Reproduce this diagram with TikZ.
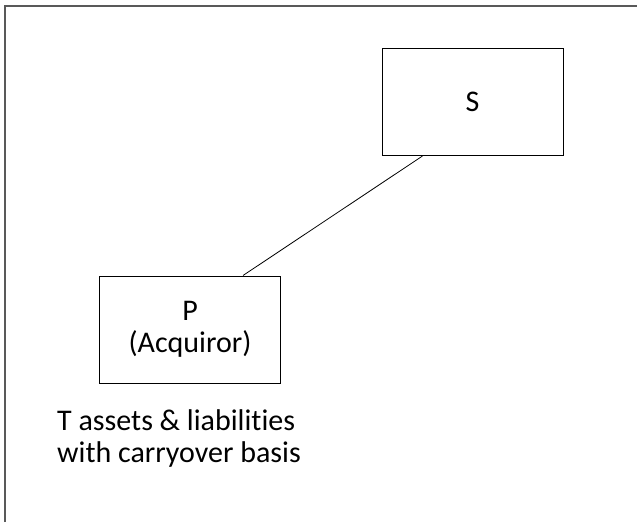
\documentclass[tikz,border=0pt]{standalone}
\usepackage{fontspec}
\setmainfont{Carlito}[Ligatures=NoCommon]
\usetikzlibrary{positioning}
\usetikzlibrary{calc}

\tikzset{
	entity/.style={draw,line width=1pt,minimum width=181pt,minimum height=107pt,align=center,font=\fontsize{30}{32}\selectfont},
	frameline/.style={draw=black!65,line width=1.4pt}
}

\begin{document}
\begin{tikzpicture}[x=1pt,y=-1pt]
	\useasboundingbox (0,0) rectangle (637,522);
	%FRAME
	\draw[frameline] (5,522) -- (5,6) -- (637,6);
	%BOXES
	\node [entity] (S) at (472.5,102) {S};
	\node [entity] (P) at (190,329.5) {P\\(Acquiror)};
	%LINK
	\draw[line width=0.8pt] ($(P.north west)+(144,0)$) -- ($(S.south west)+(41,0)$);
	%NOTE
	\node [anchor=north west,inner sep=0pt,align=left,font=\fontsize{30}{32}\selectfont] (note) at (57,409) {T assets \& liabilities\\with carryover basis};
\end{tikzpicture}
\end{document}
